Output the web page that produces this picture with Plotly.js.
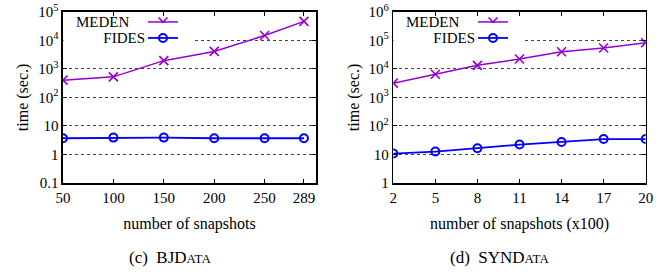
<!DOCTYPE html>
<html>
<head>
<meta charset="utf-8">
<script src="https://cdn.plot.ly/plotly-3.0.1.min.js"></script>
<style>html,body{margin:0;padding:0;background:#fff;}#chart{width:668px;height:274px;}</style>
</head>
<body>
<div id="chart"></div>
<script>
// Data (c) BJDATA
const bjSnapshots = [50, 100, 150, 200, 250, 289];
const bjMeden = [402, 525, 1940, 4080, 14700, 46000];
const bjFides = [3.7, 3.9, 3.9, 3.7, 3.7, 3.7];
// Data (d) SYNDATA
const synSnapshots = [2, 5, 8, 11, 14, 17, 20];
const synMeden = [3160, 6500, 13300, 22200, 39800, 53600, 82000];
const synFides = [10.8, 12.7, 16.6, 22.3, 27.5, 34.8, 34.8];

const yTickValsL = [0.1, 1, 10, 100, 1000, 10000, 100000];
const yTickTextL = ['0.1', '1', '10', '10<sup>2</sup>', '10<sup>3</sup>', '10<sup>4</sup>', '10<sup>5</sup>'];
const yTickValsR = [1, 10, 100, 1000, 10000, 100000, 1000000];
const yTickTextR = ['1', '10', '10<sup>2</sup>', '10<sup>3</sup>', '10<sup>4</sup>', '10<sup>5</sup>', '10<sup>6</sup>'];

const seriesNames = ['MEDEN', 'FIDES'];
const captions = ['(c)&nbsp;&nbsp;BJD<span style="font-size:13px">ATA</span>', '(d)&nbsp;&nbsp;SYND<span style="font-size:13px">ATA</span>'];

const PURPLE = '#9400d3';
const BLUE = '#0000ff';
const FONT = 'Liberation Serif';

const medenStyle = {mode: 'lines+markers', line: {color: PURPLE, width: 1.5}, marker: {symbol: 'x-thin-open', size: 9, color: PURPLE, line: {color: PURPLE, width: 1.6}}};
const fidesStyle = {mode: 'lines+markers', line: {color: BLUE, width: 1.8}, marker: {symbol: 'circle-open', size: 8, color: BLUE, line: {color: BLUE, width: 2}}};

const traces = [
  Object.assign({x: bjSnapshots, y: bjMeden, xaxis: 'x', yaxis: 'y', name: ' ', legend: 'legend3', showlegend: true}, medenStyle),
  Object.assign({x: bjSnapshots, y: bjFides, xaxis: 'x', yaxis: 'y', name: ' ', legend: 'legend2', showlegend: true}, fidesStyle),
  Object.assign({x: synSnapshots, y: synMeden, xaxis: 'x2', yaxis: 'y2', name: ' ', legend: 'legend5', showlegend: true}, medenStyle),
  Object.assign({x: synSnapshots, y: synFides, xaxis: 'x2', yaxis: 'y2', name: ' ', legend: 'legend4', showlegend: true}, fidesStyle)
];

const axCommon = {
  showline: true, linecolor: '#000', linewidth: 1.5, mirror: 'allticks',
  ticks: 'inside', ticklen: 4, tickcolor: '#000', tickwidth: 1,
  zeroline: false, tickfont: {family: FONT, size: 15, color: '#000'}
};
const yDom = [0.332, 0.957];
const xTitle = (t) => ({text: t, font: {family: FONT, size: 16, color: '#000'}, standoff: 13});
const yTitle = {text: 'time (sec.)', font: {family: FONT, size: 16, color: '#000'}, standoff: 5};
const legCommon = {xanchor: 'left', yanchor: 'middle', bgcolor: 'rgba(0,0,0,0)', borderwidth: 0, font: {size: 13}, itemwidth: 30, visible: true};

const layout = {
  width: 668, height: 274,
  margin: {l: 0, r: 0, t: 0, b: 0},
  paper_bgcolor: '#fff', plot_bgcolor: '#fff',
  showlegend: true,
  font: {family: FONT, size: 15, color: '#000'},
  xaxis: Object.assign({}, axCommon, {domain: [0.0943, 0.4731], anchor: 'y', range: [50, 301], tickmode: 'array', tickvals: bjSnapshots, showgrid: false, title: xTitle('number of snapshots')}),
  yaxis: Object.assign({}, axCommon, {domain: yDom, anchor: 'x', type: 'log', range: [-1, 5], tickmode: 'array', tickvals: yTickValsL, ticktext: yTickTextL, showgrid: true, gridcolor: '#444', griddash: 'dot', gridwidth: 1, title: yTitle}),
  xaxis2: Object.assign({}, axCommon, {domain: [0.5888, 0.9666], anchor: 'y2', range: [2, 20], tickmode: 'array', tickvals: synSnapshots, showgrid: false, title: xTitle('number of snapshots (x100)')}),
  yaxis2: Object.assign({}, axCommon, {domain: yDom, anchor: 'x2', type: 'log', range: [0, 6], tickmode: 'array', tickvals: yTickValsR, ticktext: yTickTextR, showgrid: true, gridcolor: '#444', griddash: 'dot', gridwidth: 1, title: yTitle}),
  legend3: Object.assign({x: 143/668, y: (274-22)/274}, legCommon),
  legend2: Object.assign({x: 143/668, y: (274-38)/274}, legCommon, {bgcolor: '#fff'}),
  legend5: Object.assign({x: 473/668, y: (274-22)/274}, legCommon),
  legend4: Object.assign({x: 473/668, y: (274-38)/274}, legCommon, {bgcolor: '#fff'}),
  annotations: [
    {xref: 'paper', yref: 'paper', x: 131/668, y: (274-22)/274, xanchor: 'right', yanchor: 'middle', text: seriesNames[0], showarrow: false, font: {family: FONT, size: 15}},
    {xref: 'paper', yref: 'paper', x: 146/668, y: (274-38)/274, xanchor: 'right', yanchor: 'middle', text: seriesNames[1], showarrow: false, font: {family: FONT, size: 15}, bgcolor: '#fff', width: 81, align: 'right', borderpad: 0},
    {xref: 'paper', yref: 'paper', x: 461/668, y: (274-22)/274, xanchor: 'right', yanchor: 'middle', text: seriesNames[0], showarrow: false, font: {family: FONT, size: 15}},
    {xref: 'paper', yref: 'paper', x: 476/668, y: (274-38)/274, xanchor: 'right', yanchor: 'middle', text: seriesNames[1], showarrow: false, font: {family: FONT, size: 15}, bgcolor: '#fff', width: 81, align: 'right', borderpad: 0},
    {xref: 'paper', yref: 'paper', x: 170/668, y: (274-257)/274, xanchor: 'center', yanchor: 'middle', text: captions[0], showarrow: false, font: {family: FONT, size: 17}},
    {xref: 'paper', yref: 'paper', x: 499/668, y: (274-257)/274, xanchor: 'center', yanchor: 'middle', text: captions[1], showarrow: false, font: {family: FONT, size: 17}}
  ]
};

Plotly.newPlot('chart', traces, layout, {staticPlot: true, displayModeBar: false});
</script>
</body>
</html>
